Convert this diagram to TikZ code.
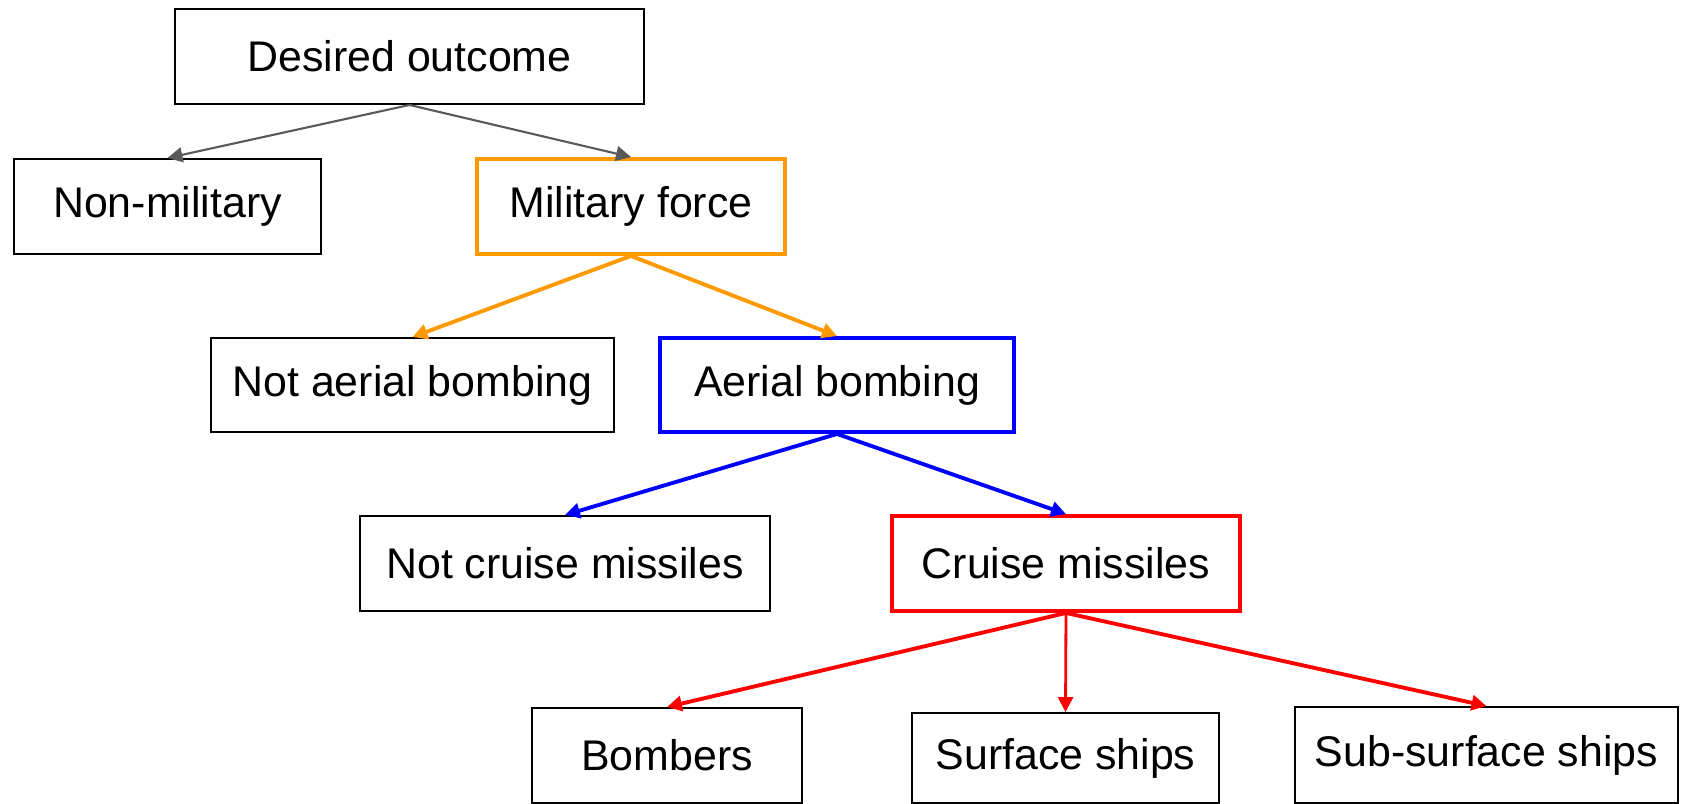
\documentclass[tikz,border=0pt]{standalone}
\usepackage{fontspec}
\setmainfont{Liberation Sans}
\usetikzlibrary{arrows.meta}

\definecolor{linegray}{HTML}{595959}
\definecolor{forceorange}{HTML}{FF9900}
\definecolor{bombblue}{HTML}{0000FF}
\definecolor{missilered}{HTML}{FF0000}

\tikzset{
  choice/.style={draw=black, line width=1.1pt, minimum height=1.9cm,
    font=\fontsize{24.4}{29}\selectfont, inner sep=0pt},
  picked/.style={choice, draw=#1, line width=2.2pt},
  branch/.style={draw=#1, line width=2.2pt, -{Triangle[length=0.3cm, width=0.3cm]}}
}

\begin{document}
\begin{tikzpicture}
        \useasboundingbox (0,0) rectangle (33.62,-16.08);
        % top level
        \node[choice, minimum width=9.38cm] (D) at (8.19,-1.13) {Desired outcome};
        \node[choice, minimum width=6.14cm] (NM) at (3.35,-4.13) {Non-military};
        \node[picked=forceorange, minimum width=6.16cm] (MF) at (12.62,-4.13) {Military force};
        % second level
        \node[choice, minimum width=8.06cm, minimum height=1.88cm] (NAB) at (8.25,-7.70) {Not aerial bombing};
        \node[picked=bombblue, minimum width=7.08cm, minimum height=1.88cm] (AB) at (16.74,-7.70) {Aerial bombing};
        % third level
        \node[choice, minimum width=8.20cm] (NCM) at (11.30,-11.27) {Not cruise missiles};
        \node[picked=missilered, minimum width=6.96cm] (CM) at (21.32,-11.27) {Cruise missiles};
        % platforms
        \node[choice, minimum width=5.40cm, minimum height=1.90cm] (B) at (13.34,-15.11) {Bombers};
        \node[choice, minimum width=6.14cm, minimum height=1.80cm] (SS) at (21.31,-15.16) {Surface ships};
        \node[choice, minimum width=7.66cm, minimum height=1.92cm] (SUB) at (29.73,-15.10) {Sub-surface ships};

        \draw[branch=linegray, line width=1.2pt] (D.south) -- (NM.north);
        \draw[branch=linegray, line width=1.2pt] (D.south) -- (MF.north);
        \draw[branch=forceorange] (MF.south) -- (NAB.north);
        \draw[branch=forceorange] (MF.south) -- (AB.north);
        \draw[branch=bombblue] (AB.south) -- (NCM.north);
        \draw[branch=bombblue] (AB.south) -- (CM.north);
        \draw[branch=missilered] (CM.south) -- (B.north);
        \draw[branch=missilered, line width=1.6pt] (CM.south) -- (SS.north);
        \draw[branch=missilered] (CM.south) -- (SUB.north);
      \end{tikzpicture}
\end{document}
